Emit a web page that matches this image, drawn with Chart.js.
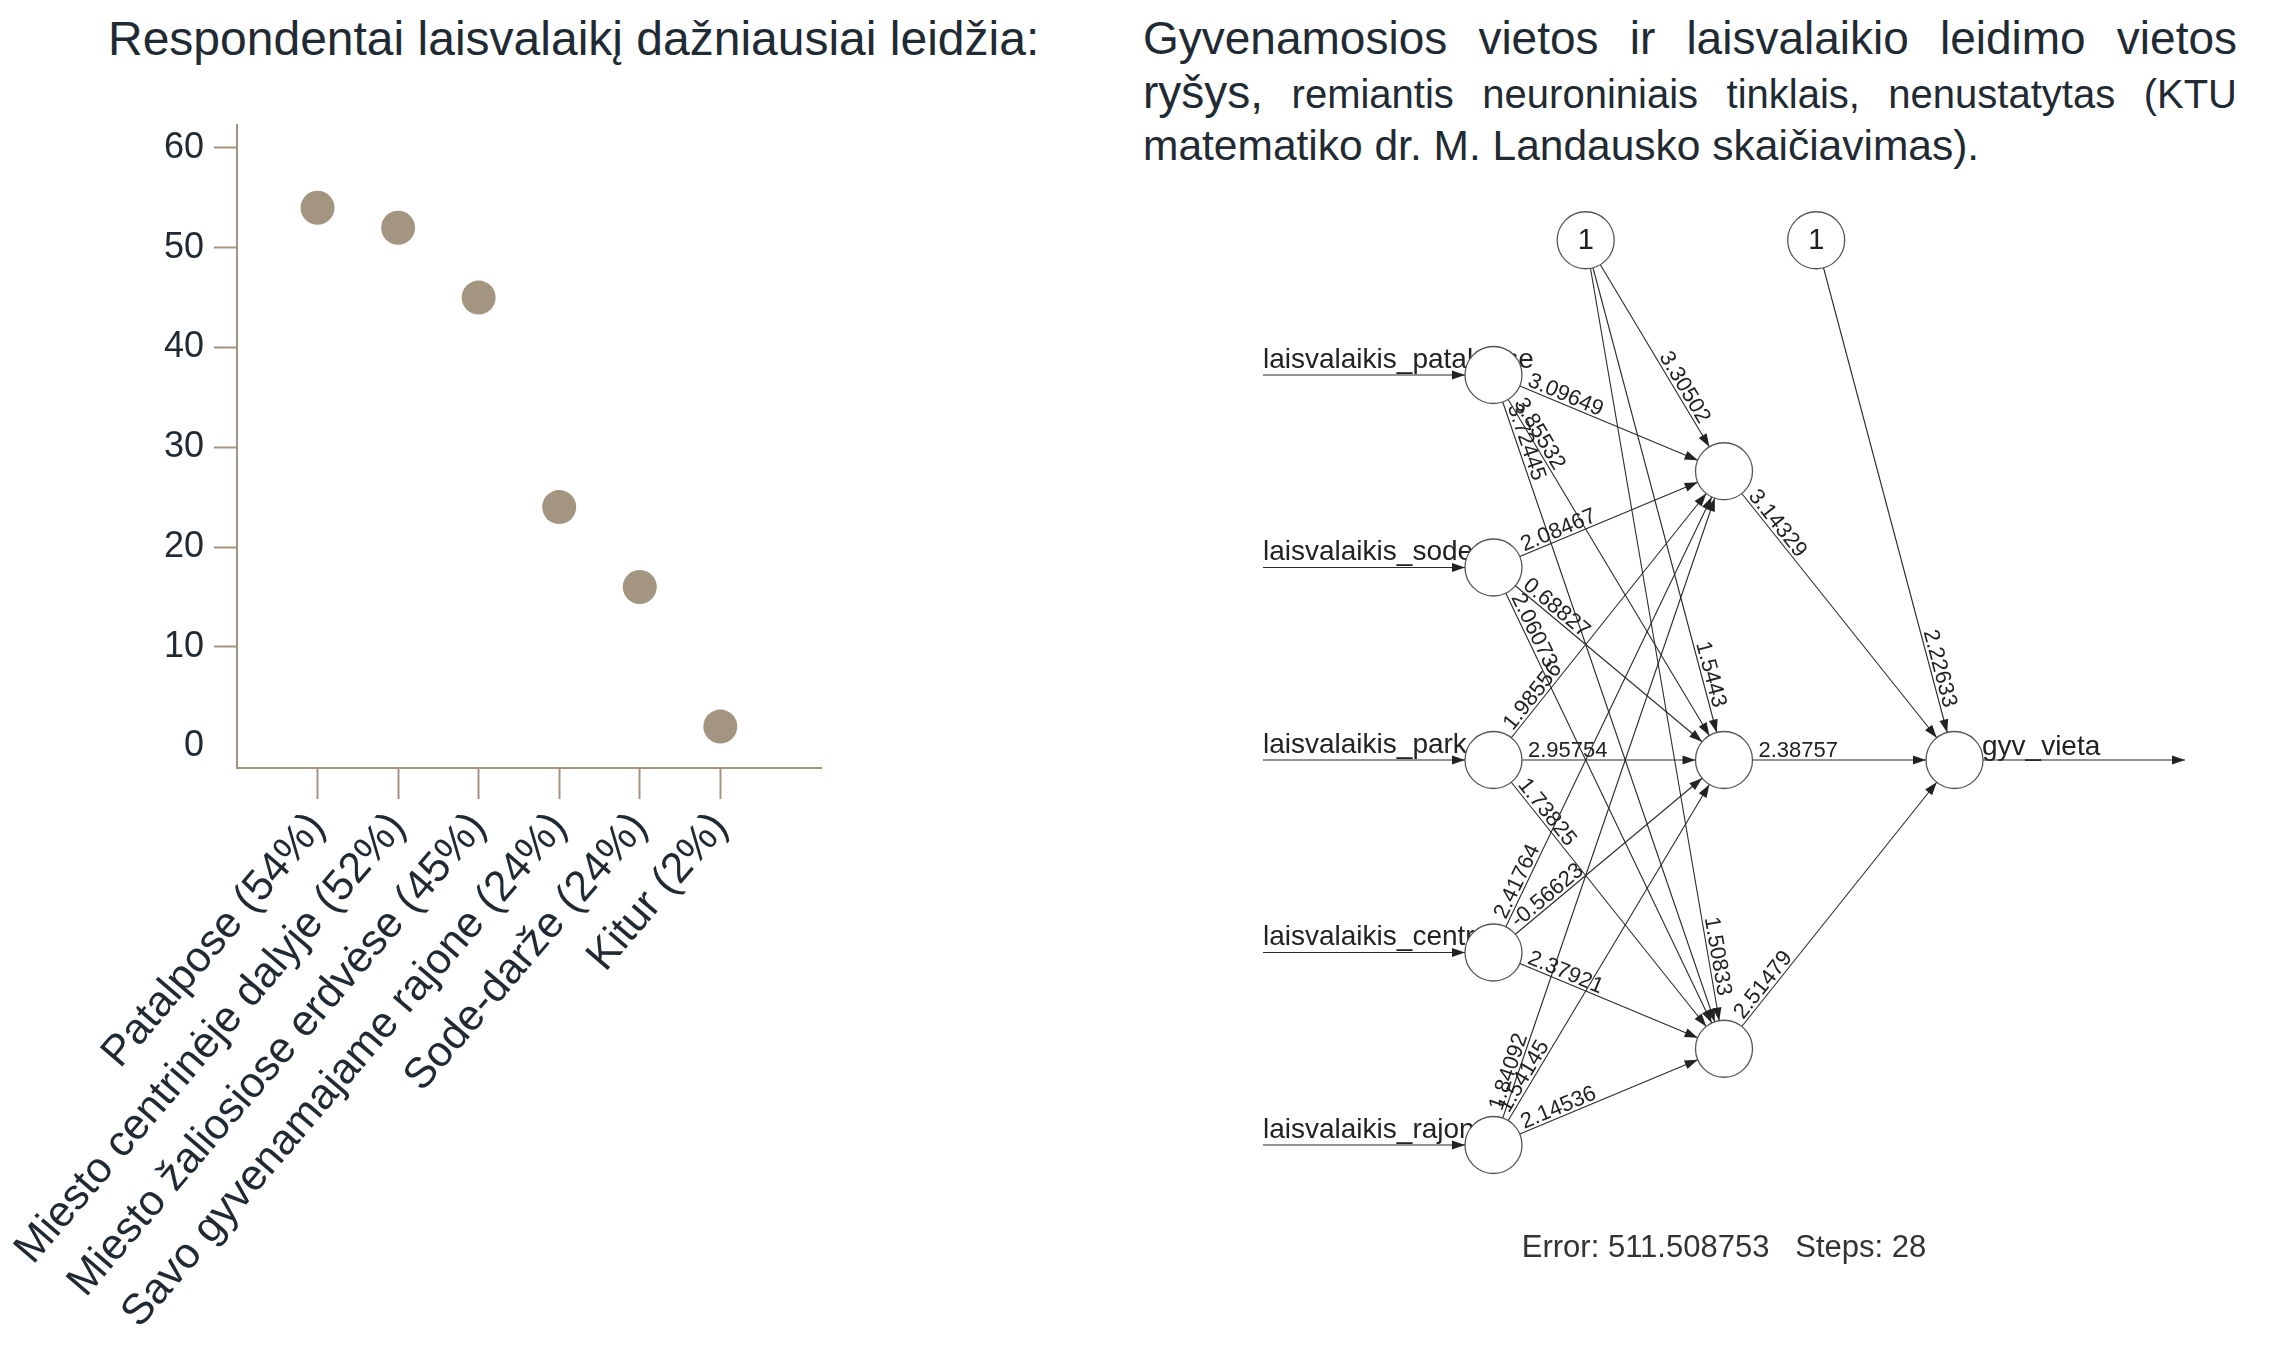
<!DOCTYPE html>
<html>
<head>
<meta charset="utf-8">
<script src="https://cdn.jsdelivr.net/npm/chart.js@4.4.1/dist/chart.umd.min.js"></script>
<style>
  html, body { margin: 0; padding: 0; background: #fff; }
  body { width: 2271px; height: 1346px; position: relative; overflow: hidden;
         font-family: "Liberation Sans", Arial, Helvetica, sans-serif; color: #1f2a32; }
  #leftTitle { position: absolute; left: 108px; top: 15px; font-size: 48px; line-height: 48px; white-space: nowrap; }
  #rightTitle { position: absolute; left: 1143px; top: 11px; width: 1094px; }
  #rightTitle div { height: 54px; line-height: 54px; white-space: nowrap; overflow: visible; }
  #rightTitle span { line-height: 54px; }
  #rightTitle .just { text-align: justify; text-align-last: justify; }
  .big { font-size: 46px; }
  .small { font-size: 40px; }
  .mid { font-size: 42.5px; }
  canvas { position: absolute; }
</style>
</head>
<body>
<div id="leftTitle">Respondentai laisvalaikį dažniausiai leidžia:</div>
<div id="rightTitle">
  <div class="just big">Gyvenamosios vietos ir laisvalaikio leidimo vietos</div>
  <div class="just small"><span class="big">ryšys,</span> remiantis neuroniniais tinklais, nenustatytas (KTU</div>
  <div class="mid">matematiko dr. M. Landausko skaičiavimas).</div>
</div>
<canvas id="leisure" width="1130" height="1346" style="left:0;top:0"></canvas>
<canvas id="net" width="1131" height="1166" style="left:1140px;top:180px"></canvas>

<script>
// ---- Leisure places survey ----
const categories = [
  'Patalpose (54%)',
  'Miesto centrinėje dalyje (52%)',
  'Miesto žaliosiose erdvėse (45%)',
  'Savo gyvenamajame rajone (24%)',
  'Sode-darže (24%)',
  'Kitur (2%)'
];
const shares = [54, 52, 45, 24, 16, 2];
const shareTicks = [0, 10, 20, 30, 40, 50, 60];

// ---- Neural network (neuralnet result) ----
const inputNames = [
  'laisvalaikis_patalpose',
  'laisvalaikis_sode',
  'laisvalaikis_park',
  'laisvalaikis_centr',
  'laisvalaikis_rajon'
];
const outputName = 'gyv_vieta';
// rows: input neurons, columns: hidden neurons
const inputWeights = [
  [3.09649, 3.85532, 3.72445],
  [2.08467, 0.68827, 2.06073],
  [1.98556, 2.95754, 1.73825],
  [2.41764, -0.56623, 2.37921],
  [1.84092, 1.54145, 2.14536]
];
const hiddenBias = [3.30502, 1.5443, 1.50833];
const hiddenToOutput = [3.14329, 2.38757, 2.51479];
const outputBias = [2.22633];
const trainError = '511.508753';
const trainSteps = 28;

const FONT = "'Liberation Sans', Arial, Helvetica, sans-serif";
const TAUPE = '#a49581';
const INK = '#1f2a32';
const NET_INK = '#222222';
Chart.defaults.font.family = FONT;

new Chart(document.getElementById('leisure'), {
  type: 'scatter',
  data: {
    datasets: [{
      data: shares.map((v, i) => ({ x: i, y: v })),
      pointRadius: 17,
      pointHoverRadius: 17,
      backgroundColor: TAUPE,
      borderWidth: 0
    }]
  },
  options: {
    responsive: false,
    animation: false,
    events: [],
    layout: { autoPadding: false, padding: { left: 0, top: 125, right: 309, bottom: 0 } },
    plugins: { legend: { display: false }, tooltip: { enabled: false } },
    scales: {
      x: {
        type: 'linear',
        min: -1,
        max: 6.25,
        afterBuildTicks: s => { s.ticks = categories.map((_, i) => ({ value: i })); },
        afterFit: s => { s.height = 1346 - 768; },
        grid: { drawOnChartArea: false, drawTicks: true, tickLength: 31, tickWidth: 2, tickColor: TAUPE },
        border: { color: TAUPE, width: 2 },
        ticks: {
          autoSkip: false, minRotation: 49.5, maxRotation: 49.5, padding: 4,
          color: INK, font: { size: 43 },
          callback: v => categories[v]
        }
      },
      y: {
        min: -2.15,
        max: 62.3,
        afterBuildTicks: s => { s.ticks = shareTicks.map(v => ({ value: v })); },
        afterFit: s => { s.width = 237; },
        grid: {
          drawOnChartArea: false, tickLength: 23, tickWidth: 2,
          tickColor: c => (c.tick && c.tick.value === 0) ? 'rgba(0,0,0,0)' : TAUPE
        },
        border: { color: TAUPE, width: 2 },
        ticks: { padding: 10, color: INK, font: { size: 36 } }
      }
    }
  }
});

// ---- network layout in layer units ----
const R = 28.5;          // neuron radius, px
const BIAS_DX = 0.4;     // bias neuron offset to the right of its layer
const BIAS_Y = 2.7;
function nodeRows(n, gap) {
  return Array.from({ length: n }, (_, i) => ((n - 1) / 2 - i) * gap);
}
const inY = nodeRows(inputNames.length, 1);
const hidY = nodeRows(hiddenBias.length, 1.5);
const nodes = {
  input: inY.map(y => ({ x: 0, y })),
  hidden: hidY.map(y => ({ x: 1, y })),
  output: [{ x: 2, y: 0 }],
  bias: [{ x: BIAS_DX, y: BIAS_Y }, { x: 1 + BIAS_DX, y: BIAS_Y }]
};

const edges = [];
inputWeights.forEach((row, i) => row.forEach((w, j) =>
  edges.push({ a: nodes.input[i], b: nodes.hidden[j], w, kind: 'fwd' })));
hiddenBias.forEach((w, j) => edges.push({ a: nodes.bias[0], b: nodes.hidden[j], w, kind: 'bias' }));
hiddenToOutput.forEach((w, j) => edges.push({ a: nodes.hidden[j], b: nodes.output[0], w, kind: 'fwd' }));
outputBias.forEach(w => edges.push({ a: nodes.bias[1], b: nodes.output[0], w, kind: 'bias' }));
inY.forEach(y => edges.push({ a: { x: -1, y }, b: { x: 0, y }, kind: 'feed' }));
edges.push({ a: nodes.output[0], b: { x: 3, y: 0 }, kind: 'lead' });

function geom(chart, e) {
  const { x, y } = chart.scales;
  const x1 = x.getPixelForValue(e.a.x), y1 = y.getPixelForValue(e.a.y);
  const x2 = x.getPixelForValue(e.b.x), y2 = y.getPixelForValue(e.b.y);
  const len = Math.hypot(x2 - x1, y2 - y1);
  return { x1, y1, x2, y2, ux: (x2 - x1) / len, uy: (y2 - y1) / len, ang: Math.atan2(y2 - y1, x2 - x1) };
}

function arrowHead(ctx, tx, ty, ux, uy) {
  const L = 13, W = 4.5;
  ctx.beginPath();
  ctx.moveTo(tx, ty);
  ctx.lineTo(tx - ux * L - uy * W, ty - uy * L + ux * W);
  ctx.lineTo(tx - ux * L + uy * W, ty - uy * L - ux * W);
  ctx.closePath();
  ctx.fill();
}

const netDecor = {
  id: 'netDecor',
  beforeDatasetsDraw(chart) {
    const { ctx, scales: { x, y } } = chart;
    ctx.save();
    ctx.fillStyle = NET_INK;
    ctx.font = `28px ${FONT}`;
    ctx.textAlign = 'left';
    ctx.textBaseline = 'alphabetic';
    inputNames.forEach((name, i) =>
      ctx.fillText(name, x.getPixelForValue(-1), y.getPixelForValue(inY[i]) - 7));
    ctx.fillText(outputName, x.getPixelForValue(nodes.output[0].x) + R - 1, y.getPixelForValue(nodes.output[0].y) - 5);
    ctx.restore();
  },
  afterDatasetsDraw(chart) {
    const { ctx, scales: { x, y } } = chart;
    ctx.save();
    ctx.fillStyle = NET_INK;
    edges.forEach(e => {
      const g = geom(chart, e);
      if (e.kind === 'lead') arrowHead(ctx, g.x2, g.y2, g.ux, g.uy);
      else arrowHead(ctx, g.x2 - g.ux * R, g.y2 - g.uy * R, g.ux, g.uy);
    });
    ctx.font = `22px ${FONT}`;
    ctx.textBaseline = 'alphabetic';
    edges.forEach(e => {
      if (e.w === undefined) return;
      const g = geom(chart, e);
      ctx.save();
      if (e.kind === 'bias') {
        ctx.translate(g.x2 - g.ux * (R + 24), g.y2 - g.uy * (R + 24));
        ctx.rotate(g.ang);
        ctx.textAlign = 'right';
      } else {
        ctx.translate(g.x1 + g.ux * (R + 6), g.y1 + g.uy * (R + 6));
        ctx.rotate(g.ang);
        ctx.textAlign = 'left';
      }
      ctx.fillText(String(e.w), 0, -3);
      ctx.restore();
    });
    ctx.font = `29px ${FONT}`;
    ctx.textAlign = 'center';
    ctx.textBaseline = 'middle';
    nodes.bias.forEach(b => ctx.fillText('1', x.getPixelForValue(b.x), y.getPixelForValue(b.y) + 1));
    ctx.font = `31px ${FONT}`;
    ctx.fillStyle = '#333';
    ctx.fillText(`Error: ${trainError}   Steps: ${trainSteps}`, x.getPixelForValue(1), y.getPixelForValue(-2.535));
    ctx.restore();
  }
};

new Chart(document.getElementById('net'), {
  type: 'scatter',
  data: {
    datasets: [
      {
        data: [...nodes.input, ...nodes.hidden, ...nodes.output, ...nodes.bias],
        pointRadius: R, pointHoverRadius: R,
        backgroundColor: '#ffffff', borderColor: '#555555', borderWidth: 1.3,
        order: 0
      },
      ...edges.map(e => ({
        data: [e.a, e.b],
        showLine: true,
        borderColor: '#2a2a2a',
        borderWidth: 1.1,
        pointRadius: 0,
        pointHoverRadius: 0,
        order: 1
      }))
    ]
  },
  options: {
    responsive: false,
    animation: false,
    events: [],
    layout: { autoPadding: false, padding: 0 },
    plugins: { legend: { display: false }, tooltip: { enabled: false } },
    scales: {
      x: { type: 'linear', display: false, min: -1.5336, max: 3.3731 },
      y: { type: 'linear', display: false, min: -3.0442, max: 3.0130 }
    }
  },
  plugins: [netDecor]
});
</script>
</body>
</html>
